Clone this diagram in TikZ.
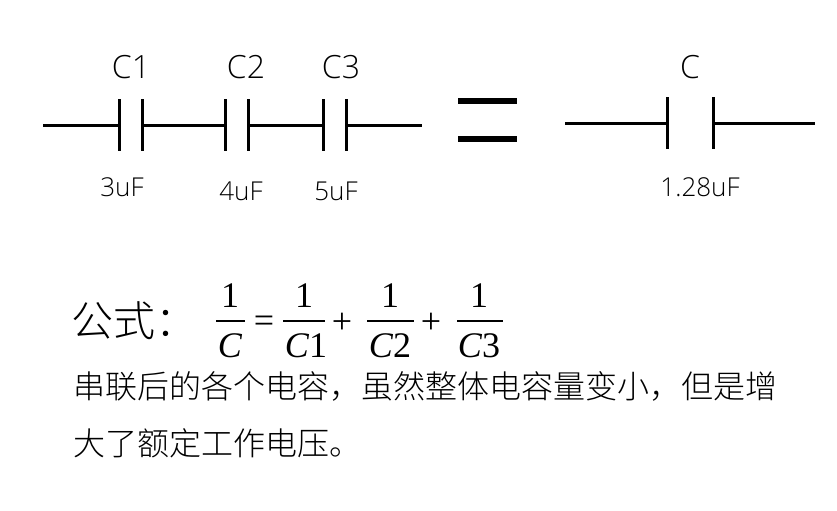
\documentclass[tikz,border=0pt]{standalone}
\usepackage{fontspec}
\setmainfont{Liberation Serif}
\newfontfamily\cjk{Noto Sans CJK SC Light}
\newfontfamily\lab{Open Sans Light}
\tikzset{
 wire/.style={line width=2.2pt,black},
 plate/.style={line width=2.2pt,black},
 lbl/.style={inner sep=0pt,font=\lab\fontsize{24}{24}\selectfont},
 val/.style={inner sep=0pt,font=\lab\fontsize{19.5}{19.5}\selectfont},
 txt/.style={inner sep=0pt,anchor=west,font=\cjk\fontsize{24}{24}\selectfont},
 frac/.style={inner sep=0pt,font=\fontsize{27}{27}\selectfont},
 bar/.style={line width=0.9pt}
}
\begin{document}
\begin{tikzpicture}[x=0.75pt,y=-0.75pt]
\useasboundingbox (0,0) rectangle (837,510);
\coordinate (a) at (43,125.5); \coordinate (p1) at (119.5,125.5); \coordinate (p2) at (142.5,125.5);
\coordinate (p3) at (225.5,125.5); \coordinate (p4) at (248.5,125.5); \coordinate (p5) at (323.5,125.5);
\coordinate (p6) at (346.5,125.5); \coordinate (b) at (422,125.5);
\draw[wire] (a)--(p1) (p2)--(p3) (p4)--(p5) (p6)--(b);
\foreach \x in {119.5,142.5,225.5,248.5,323.5,346.5} \draw[plate] (\x,99)--(\x,151);
\draw[line width=4.2pt] (458,101)--(517,101) (458,139)--(517,139);
\coordinate (c) at (565,123.5); \coordinate (q1) at (667.5,123.5); \coordinate (q2) at (713.5,123.5); \coordinate (d) at (815,123.5);
\draw[wire] (c)--(q1) (q2)--(d);
\foreach \x in {667.5,713.5} \draw[plate] (\x,97)--(\x,149);
\node[lbl] (c1) at (131,67) {C1};
\node[lbl] (c2) at (246,67) {C2};
\node[lbl] (c3) at (341,67) {C3};
\node[lbl] (c0) at (690,67) {C};
\node[val] (v1) at (122,187) {3uF};
\node[val] (v2) at (241,191) {4uF};
\node[val] (v3) at (336,191) {5uF};
\node[val] (v0) at (700,187) {1.28uF};
\node[txt] (gs) at (71,321) {\fontsize{31.5}{31.5}\selectfont 公式：};
\node[frac] (n1) at (230,296) {1};
\node[frac] (d1) at (230,346) {\textit{C}};
\draw[bar] (216,321)--(245,321);
\node[frac] (eq) at (264,324) {=};
\node[frac] (n2) at (304,296) {1};
\node[frac] (d2) at (306,346) {\textit{C}1};
\draw[bar] (283,321)--(325,321);
\node[frac] (pl1) at (342,323) {+};
\node[frac] (n3) at (390,296) {1};
\node[frac] (d3) at (390,346) {\textit{C}2};
\draw[bar] (367,321)--(414,321);
\node[frac] (pl2) at (431,323) {+};
\node[frac] (n4) at (479,296) {1};
\node[frac] (d4) at (479,346) {\textit{C}3};
\draw[bar] (457,321)--(503,321);
\node[txt] (t1) at (73,386) {串联后的各个电容，虽然整体电容量变小，但是增};
\node[txt] (t2) at (73,443) {大了额定工作电压。};
\end{tikzpicture}
\end{document}
